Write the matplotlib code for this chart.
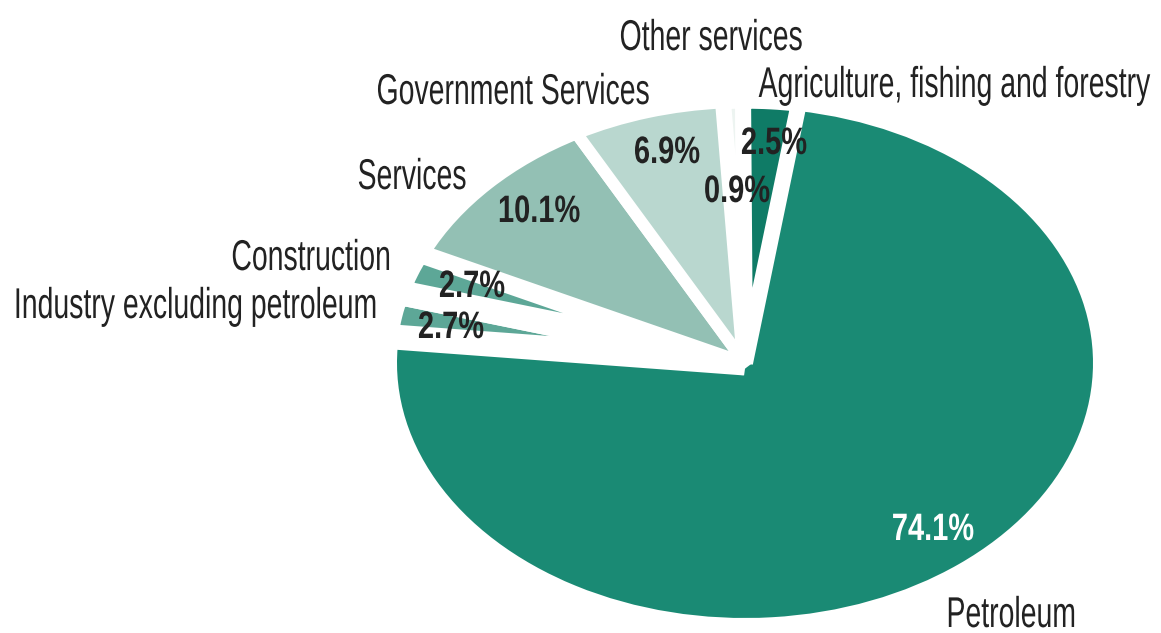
import matplotlib
matplotlib.use("Agg")
import matplotlib.pyplot as plt
from matplotlib.patheffects import AbstractPathEffect
from matplotlib.transforms import Affine2D

# GDP shares by sector, in the order the wedges run (clockwise from the top)
sectors = ["Petroleum", "Industry excluding petroleum", "Construction", "Services",
           "Government Services", "Other services", "Agriculture, fishing and forestry"]
shares = [74.1, 2.7, 2.7, 10.1, 6.9, 0.9, 2.5]
colors = ["#1a8a74", "#5da797", "#5da797", "#93c0b4", "#b9d7cf", "#edf4f1", "#0f7b66"]

# white separator width per wedge (pixels) and outer radius tweak
gap_px = [12, 25, 25, 12, 12, 16, 16]
radius = [1.0, 1.02, 1.02, 1.0, 1.0, 1.005, 1.005]

# pixel geometry of the flattened pie
W, H = 1161, 633
CX, CY = 745, 363
RX, RY = 354, 261


def px(x, y):
    # image pixel -> data units of the pie axes
    return (x - CX) / RX, (CY - y) / RY


class Narrow(AbstractPathEffect):
    """Squeeze glyphs horizontally about the centre of the string."""

    def __init__(self, sx):
        super().__init__()
        self.sx = sx

    def draw_path(self, renderer, gc, tpath, affine, rgbFace=None):
        bb = tpath.get_extents(affine)
        cx = 0.5 * (bb.x0 + bb.x1)
        squeeze = Affine2D().translate(-cx, 0).scale(self.sx, 1).translate(cx, 0)
        renderer.draw_path(gc, tpath, affine + squeeze, rgbFace)


fig = plt.figure(figsize=(W / 100, H / 100), dpi=100)
ax = fig.add_axes([0, 0, 1, 1])
wedges, _ = ax.pie(shares, colors=colors, startangle=81.3, counterclock=False,
                   normalize=True,
                   wedgeprops=dict(edgecolor="white", joinstyle="bevel"))
for w, g, r in zip(wedges, gap_px, radius):
    w.set_linewidth(g * 0.72)
    w.set_radius(r)
ax.set_aspect("auto")
ax.set_xlim(-CX / RX, (W - CX) / RX)
ax.set_ylim(-(H - CY) / RY, CY / RY)
ax.axis("off")

fam = ["Liberation Sans", "DejaVu Sans"]
name_fx = [Narrow(0.66)]
pct_fx = [Narrow(0.76)]

# category names (centre x, baseline y)
name_pos = [(1011, 627), (195, 318), (311, 270), (412, 189),
            (513, 104), (711, 50), (954, 97)]
for name, (x, y) in zip(sectors, name_pos):
    ax.text(*px(x, y), name, ha="center", va="baseline", fontsize=31,
            family=fam, color="#222222", path_effects=name_fx)

# percentage labels
pct_pos = [(933, 540), (451, 338), (472, 297), (539, 222),
           (667, 163), (737, 202), (774, 154)]
for i, (v, (x, y)) in enumerate(zip(shares, pct_pos)):
    ax.text(*px(x, y), f"{v:.1f}%", ha="center", va="baseline", fontsize=27.5,
            family=fam, weight="bold", color="white" if i == 0 else "#222222",
            path_effects=pct_fx)

fig.savefig("out.png", dpi=100)
